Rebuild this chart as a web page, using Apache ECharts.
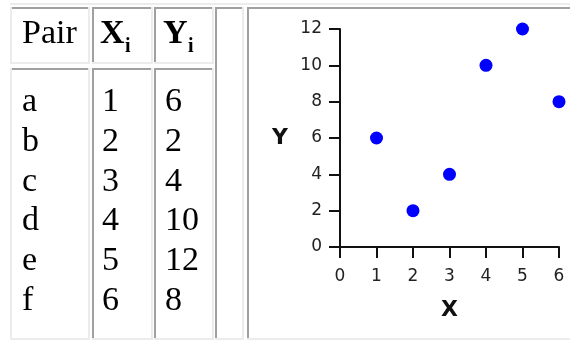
<!DOCTYPE html>
<html>
<head>
<meta charset="utf-8">
<script src="https://cdn.jsdelivr.net/npm/echarts@6/dist/echarts.min.js"></script>
<style>
html,body{margin:0;padding:0;background:#fff;}
#main{width:570px;height:341px;}
</style>
</head>
<body>
<div id="main"></div>
<script>
// ---- data ----
const pairs = ['a', 'b', 'c', 'd', 'e', 'f'];
const xValues = [1, 2, 3, 4, 5, 6];
const yValues = [6, 2, 4, 10, 12, 8];
const headerLabels = ['Pair', 'X', 'Y'];
const headerSub = ['', 'i', 'i'];
const xAxisName = 'X';
const yAxisName = 'Y';

// ---- table drawing ----
const DARK = '#a0a0a0', LIGHT = '#ececec';
const graphics = [];
function rect(x, y, w, h, fill) {
  graphics.push({type: 'rect', silent: true, shape: {x: x, y: y, width: w, height: h}, style: {fill: fill}, z: 1});
}
function cell(x1, y1, x2, y2, leftLight) {
  rect(x1, y1, x2 - x1, 2, DARK);
  rect(x1, y1, 2, y2 - y1, leftLight ? LIGHT : DARK);
  rect(x1, y2 - 2, x2 - x1, 2, LIGHT);
  rect(x2 - 2, y1, 2, y2 - y1, LIGHT);
}
function text(str, x, y, font) {
  graphics.push({type: 'text', silent: true, x: x, y: y, z: 2,
    style: {text: str, font: font, fill: '#000', align: 'left', verticalAlign: 'middle'}});
}
// outer table top edge
rect(10, 3, 560, 2, LIGHT);
const cols = [[10, 90], [92, 153], [154, 214]];
cols.forEach(function (c, i) {
  cell(c[0], 7, c[1], 64, i === 0);
  cell(c[0], 68, c[1], 340, i === 0);
});
cell(215, 7, 244, 340, false);
cell(247, 7, 574, 340, false);

const SERIF = '"Liberation Serif", "Times New Roman", serif';
const headX = [22, 100, 163];
const subX = [0, 125, 188];
headerLabels.forEach(function (h, i) {
  text(h, headX[i], 34, (i === 0 ? '' : 'bold ') + '34px ' + SERIF);
  if (headerSub[i]) text(headerSub[i], subX[i], 47, 'bold 20px ' + SERIF);
});
const bodyX = [22, 102, 165];
const rowStep = 39.8;
pairs.forEach(function (p, i) {
  const y = 102 + i * rowStep;
  text(p, bodyX[0], y, '34px ' + SERIF);
  text(String(xValues[i]), bodyX[1], y, '34px ' + SERIF);
  text(String(yValues[i]), bodyX[2], y, '34px ' + SERIF);
});

// ---- chart ----
const AX = '#111';
const labelFont = {fontFamily: '"DejaVu Sans", sans-serif', fontSize: 17, color: '#222'};
const chart = echarts.init(document.getElementById('main'), null, {renderer: 'canvas'});
chart.setOption({
  animation: false,
  backgroundColor: '#fff',
  graphic: graphics,
  grid: {left: 340, right: 11, top: 29, bottom: 94, containLabel: false},
  xAxis: {
    type: 'value', min: 0, max: 6, interval: 1,
    name: xAxisName, nameLocation: 'middle', nameGap: 52,
    nameTextStyle: {fontFamily: '"DejaVu Sans", sans-serif', fontWeight: 'bold', fontSize: 22, color: '#111'},
    axisLine: {show: true, lineStyle: {color: AX, width: 2}},
    axisTick: {show: true, length: 11, lineStyle: {color: AX, width: 2}},
    axisLabel: Object.assign({margin: 21}, labelFont),
    splitLine: {show: false}
  },
  yAxis: {
    type: 'value', min: 0, max: 12, interval: 2,
    name: yAxisName, nameLocation: 'middle', nameGap: 52, nameRotate: 0,
    nameTextStyle: {fontFamily: '"DejaVu Sans", sans-serif', fontWeight: 'bold', fontSize: 22, color: '#111'},
    axisLine: {show: true, lineStyle: {color: AX, width: 2}},
    axisTick: {show: true, length: 11, lineStyle: {color: AX, width: 2}},
    axisLabel: Object.assign({margin: 18}, labelFont),
    splitLine: {show: false}
  },
  series: [{
    type: 'scatter',
    symbol: 'circle',
    symbolSize: 13,
    itemStyle: {color: '#0000ff', opacity: 1},
    data: xValues.map(function (x, i) { return [x, yValues[i]]; })
  }]
});
</script>
</body>
</html>
